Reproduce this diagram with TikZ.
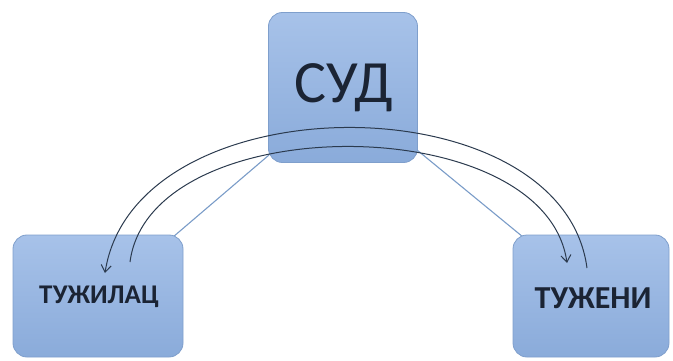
\documentclass[tikz,border=0pt]{standalone}
\usepackage{fontspec}
\setmainfont{Carlito}
\usetikzlibrary{arrows.meta}
\definecolor{boxtop}{HTML}{A7C2E9}
\definecolor{boxbot}{HTML}{8AABDA}
\definecolor{boxline}{HTML}{7F9FCC}
\definecolor{txt}{HTML}{1B2434}
\definecolor{arc}{HTML}{2B3A4E}
\definecolor{link}{HTML}{7A9CC8}
\tikzset{
  party/.style={draw=boxline, line width=0.8pt, rounded corners=14pt,
    top color=boxtop, bottom color=boxbot, inner sep=0pt, text=txt},
  linkline/.style={draw=link, line width=1.1pt},
  arcline/.style={draw=arc, line width=1pt},
  tip/.style={-{Straight Barb[length=7pt,width=10pt]}}
}
\begin{document}
\begin{tikzpicture}[x=1pt,y=-1pt]
\useasboundingbox (0,0) rectangle (673,361);
% connector lines behind boxes
\coordinate (c1) at (269,155);
\coordinate (c2) at (417,150);
\coordinate (l1) at (173,237);
\coordinate (r1) at (523,237);
\draw[linkline] (c1) -- (l1);
\draw[linkline] (c2) -- (r1);
\node[party, minimum width=149pt, minimum height=150pt] (sud) at (343,87.5) {};
\node[text=txt, font=\fontsize{60}{62}\selectfont] (sudt) at (344,88) {СУД};
\node[party, minimum width=170pt, minimum height=122pt] (tuz) at (98,296) {};
\node[text=txt, font=\bfseries\fontsize{27}{29}\selectfont] (tuzt) at (99,297) {ТУЖИЛАЦ};
\node[party, minimum width=156pt, minimum height=122pt] (tuzen) at (591,296) {};
\node[text=txt, font=\bfseries\fontsize{32}{34}\selectfont] (tuzent) at (593,298) {ТУЖЕНИ};
% arcs
\coordinate (o1) at (587,268);
\coordinate (o2) at (105,273);
\coordinate (i1) at (130,262);
\coordinate (i2) at (567,263);
\draw[arcline, tip] (o1) .. controls (562,80) and (135,80) .. (o2);
\draw[arcline, tip] (i1) .. controls (150,108) and (545,108) .. (i2);
\end{tikzpicture}
\end{document}
